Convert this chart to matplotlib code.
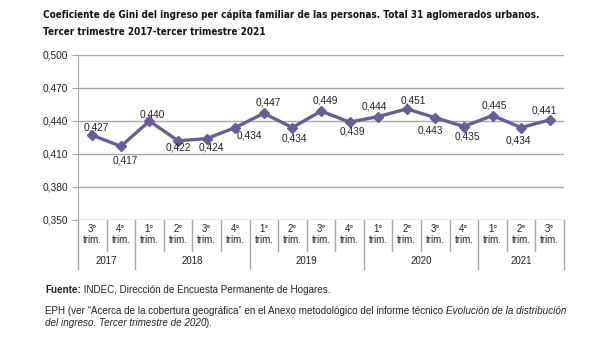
import matplotlib
matplotlib.use("Agg")
import matplotlib.pyplot as plt
import matplotlib.transforms as mtransforms
from matplotlib.lines import Line2D

# Data
quarters = ["3°", "4°", "1°", "2°", "3°", "4°", "1°", "2°", "3°", "4°",
            "1°", "2°", "3°", "4°", "1°", "2°", "3°"]
years = ["2017", "2018", "2019", "2020", "2021"]
year_counts = [2, 4, 4, 4, 3]
gini = [0.427, 0.417, 0.440, 0.422, 0.424, 0.434, 0.447, 0.434, 0.449,
        0.439, 0.444, 0.451, 0.443, 0.435, 0.445, 0.434, 0.441]
yticks = [0.350, 0.380, 0.410, 0.440, 0.470, 0.500]

# label offsets from the point, in pixels (dx right, dy down)
label_dx = [4, 4, 3, 0, 5, 14, 4, 2, 4, 3, -4, 7, -5, 3, 2, -3, -5]
label_dy = [-8, 14, -6, 7, 9, 8, -11, 11, -11, 9, -10, -8, 13, 10, -10, 13, -9]

LINE_COLOR = "#6b5d93"
GRID_COLOR = "#a6a6a6"
TEXT_COLOR = "#222222"

plt.rcParams["font.family"] = ["Liberation Sans", "DejaVu Sans"]

fig = plt.figure(figsize=(6.16, 3.44), dpi=100)
W, H = 616, 344
ax = fig.add_axes([78 / W, (H - 220) / H, (564 - 78) / W, 165 / H])

n = len(gini)
x = list(range(n))
ax.plot(x, gini, color=LINE_COLOR, lw=2.4, marker="D", ms=5.5,
        mec=LINE_COLOR, mfc=LINE_COLOR, zorder=3)

for xi, v, dx, dy in zip(x, gini, label_dx, label_dy):
    lbl = f"{v:.3f}".replace(".", ",")
    ax.annotate(lbl, (xi, v), xytext=(dx, -dy), textcoords="offset pixels",
                ha="center", va="center", fontsize=7.3, color=TEXT_COLOR,
                zorder=4)

ax.set_xlim(-0.5, n - 0.5)
ax.set_ylim(0.350, 0.500)
ax.set_yticks(yticks)
ax.set_yticklabels([f"{t:.3f}".replace(".", ",") for t in yticks],
                   fontsize=7.3, color=TEXT_COLOR)
ax.tick_params(axis="y", length=4, color=GRID_COLOR, pad=3)
ax.set_xticks([])
ax.yaxis.grid(True, color=GRID_COLOR, lw=1.0)
ax.set_axisbelow(True)
for s in ["top", "right", "bottom"]:
    ax.spines[s].set_visible(False)
ax.spines["left"].set_color(GRID_COLOR)

# category table below the axis
trans = mtransforms.blended_transform_factory(ax.transData, ax.transAxes)
row1 = -31 / 165
row2 = -49 / 165
year_edges = [-0.5]
for c in year_counts:
    year_edges.append(year_edges[-1] + c)
for i in range(n + 1):
    b = i - 0.5
    bottom = row2 if b in year_edges else row1
    ax.add_line(Line2D([b, b], [0, bottom], transform=trans, color=GRID_COLOR,
                       lw=1.0, clip_on=False))
for i, q in enumerate(quarters):
    ax.text(i, -4 / 165, f"{q}\ntrim.", transform=trans, ha="center", va="top",
            fontsize=7.0, color=TEXT_COLOR, linespacing=1.1)
for k, yr in enumerate(years):
    mid = (year_edges[k] + year_edges[k + 1]) / 2
    ax.text(mid, -41 / 165, yr, transform=trans, ha="center", va="center",
            fontsize=7.0, color=TEXT_COLOR)

# title
title_kw = dict(family="DejaVu Sans", stretch="condensed", weight="bold",
                fontsize=7.1, color="#111111", va="center")
fig.text(43 / W, 1 - 15 / H,
         "Coeficiente de Gini del ingreso per cápita familiar de las personas. "
         "Total 31 aglomerados urbanos.", **title_kw)
fig.text(43 / W, 1 - 32 / H, "Tercer trimestre 2017-tercer trimestre 2021",
         **title_kw)


def text_run(x0, y0, pieces, size=7.1):
    """Write text pieces of mixed style one after another on a line."""
    renderer = fig.canvas.get_renderer()
    xpos = x0
    for s, kw in pieces:
        t = fig.text(xpos / W, 1 - y0 / H, s, fontsize=size, color=TEXT_COLOR,
                     va="center", **kw)
        xpos = t.get_window_extent(renderer).x1


# footer
text_run(45, 290, [("Fuente:", {"weight": "bold"}),
                   (" INDEC, Dirección de Encuesta Permanente de Hogares.", {})])
text_run(45, 311, [("EPH (ver “Acerca de la cobertura geográfica” en el Anexo "
                    "metodológico del informe técnico ", {}),
                   ("Evolución de la distribución", {"style": "italic"})])
text_run(45, 323, [("del ingreso. Tercer trimestre de 2020", {"style": "italic"}),
                   (").", {})])

fig.savefig("out.png", dpi=100)
